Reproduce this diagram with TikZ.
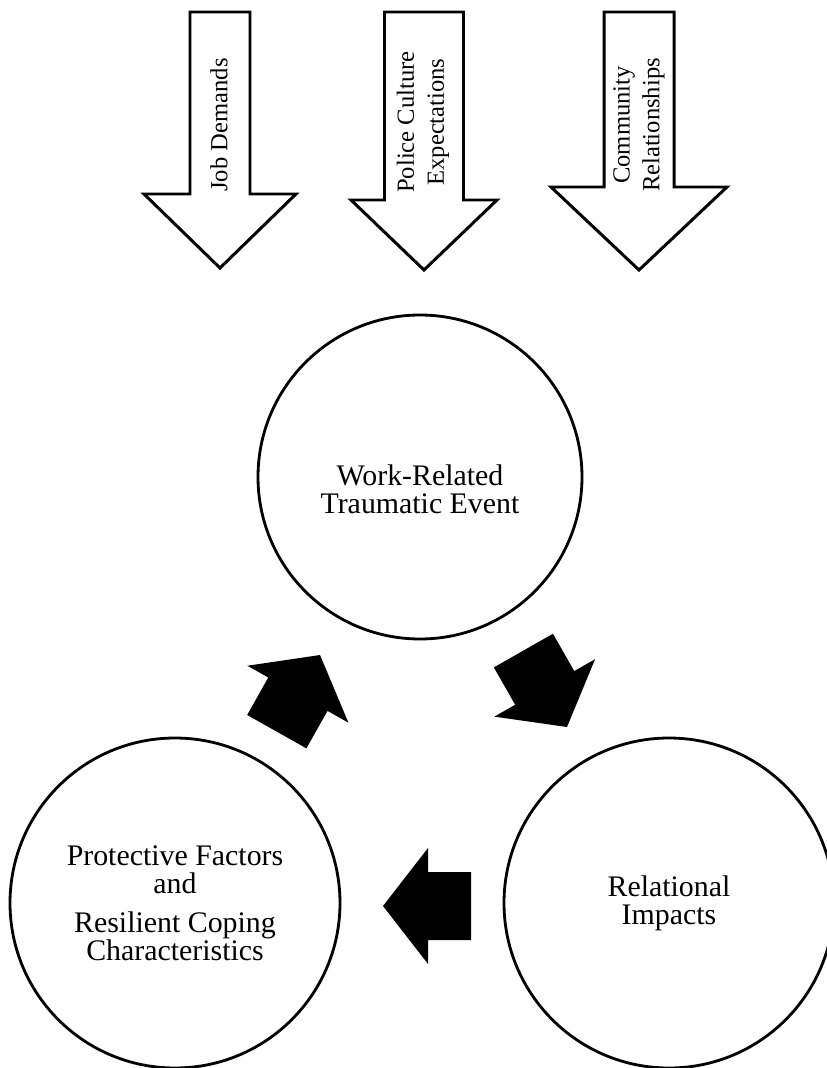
\documentclass[tikz,border=0pt]{standalone}
\usepackage{fontspec}
\setmainfont{Liberation Serif}
\usepackage{tikz}
\usetikzlibrary{calc,positioning}
\newcommand{\droparrow}[5]{%
  \draw[line width=1.7pt,fill=white,line join=miter] (#1-#2,12)--(#1+#2,12)--(#1+#2,#4)--(#1+#3,#4)--(#1,#5)--(#1-#3,#4)--(#1-#2,#4)--cycle;}
\newcommand{\blockarrow}[2]{%
  \fill[black,shift={(#1)},rotate=#2] (0,0)--(-45,58)--(-45,34)--(-88,34)--(-88,-34)--(-45,-34)--(-45,-58)--cycle;}

\begin{document}
\begin{tikzpicture}[x=0.02cm,y=-0.02cm,
  bubble/.style={circle,draw,line width=1.6pt,inner sep=0pt},
  bubbletext/.style={align=center,font=\fontsize{17}{16}\selectfont},
  droptext/.style={rotate=90,align=center,font=\fontsize{14}{17}\selectfont}]
  \useasboundingbox (0,0) rectangle (827,1068);
  \droparrow{220}{30}{76}{194}{268}
  \droparrow{424}{39.5}{73}{200}{270}
  \droparrow{639}{35}{88}{187}{270}
  \node[droptext] (jobs) at (219,125) {Job Demands};
  \node[droptext] (culture) at (423,122) {Police Culture\\Expectations};
  \node[droptext] (community) at (639,125) {Community\\Relationships};
  \node[bubble,minimum size=324*0.02cm] (trauma) at (420,477) {};
  \node[bubbletext] (traumatext) at ($(trauma.center)+(0,12)$) {Work-Related\\Traumatic Event};
  \node[bubble,minimum size=330*0.02cm,bubbletext] (relational) at (669,903) {Relational\\Impacts};
  \node[bubble,minimum size=330*0.02cm,bubbletext] (protective) at (175,903) {Protective Factors\\and\\[6pt]Resilient Coping\\Characteristics};
  \blockarrow{320,655}{60.6}
  \blockarrow{567,727}{-60.3}
  \blockarrow{383,906}{180}
\end{tikzpicture}
\end{document}
